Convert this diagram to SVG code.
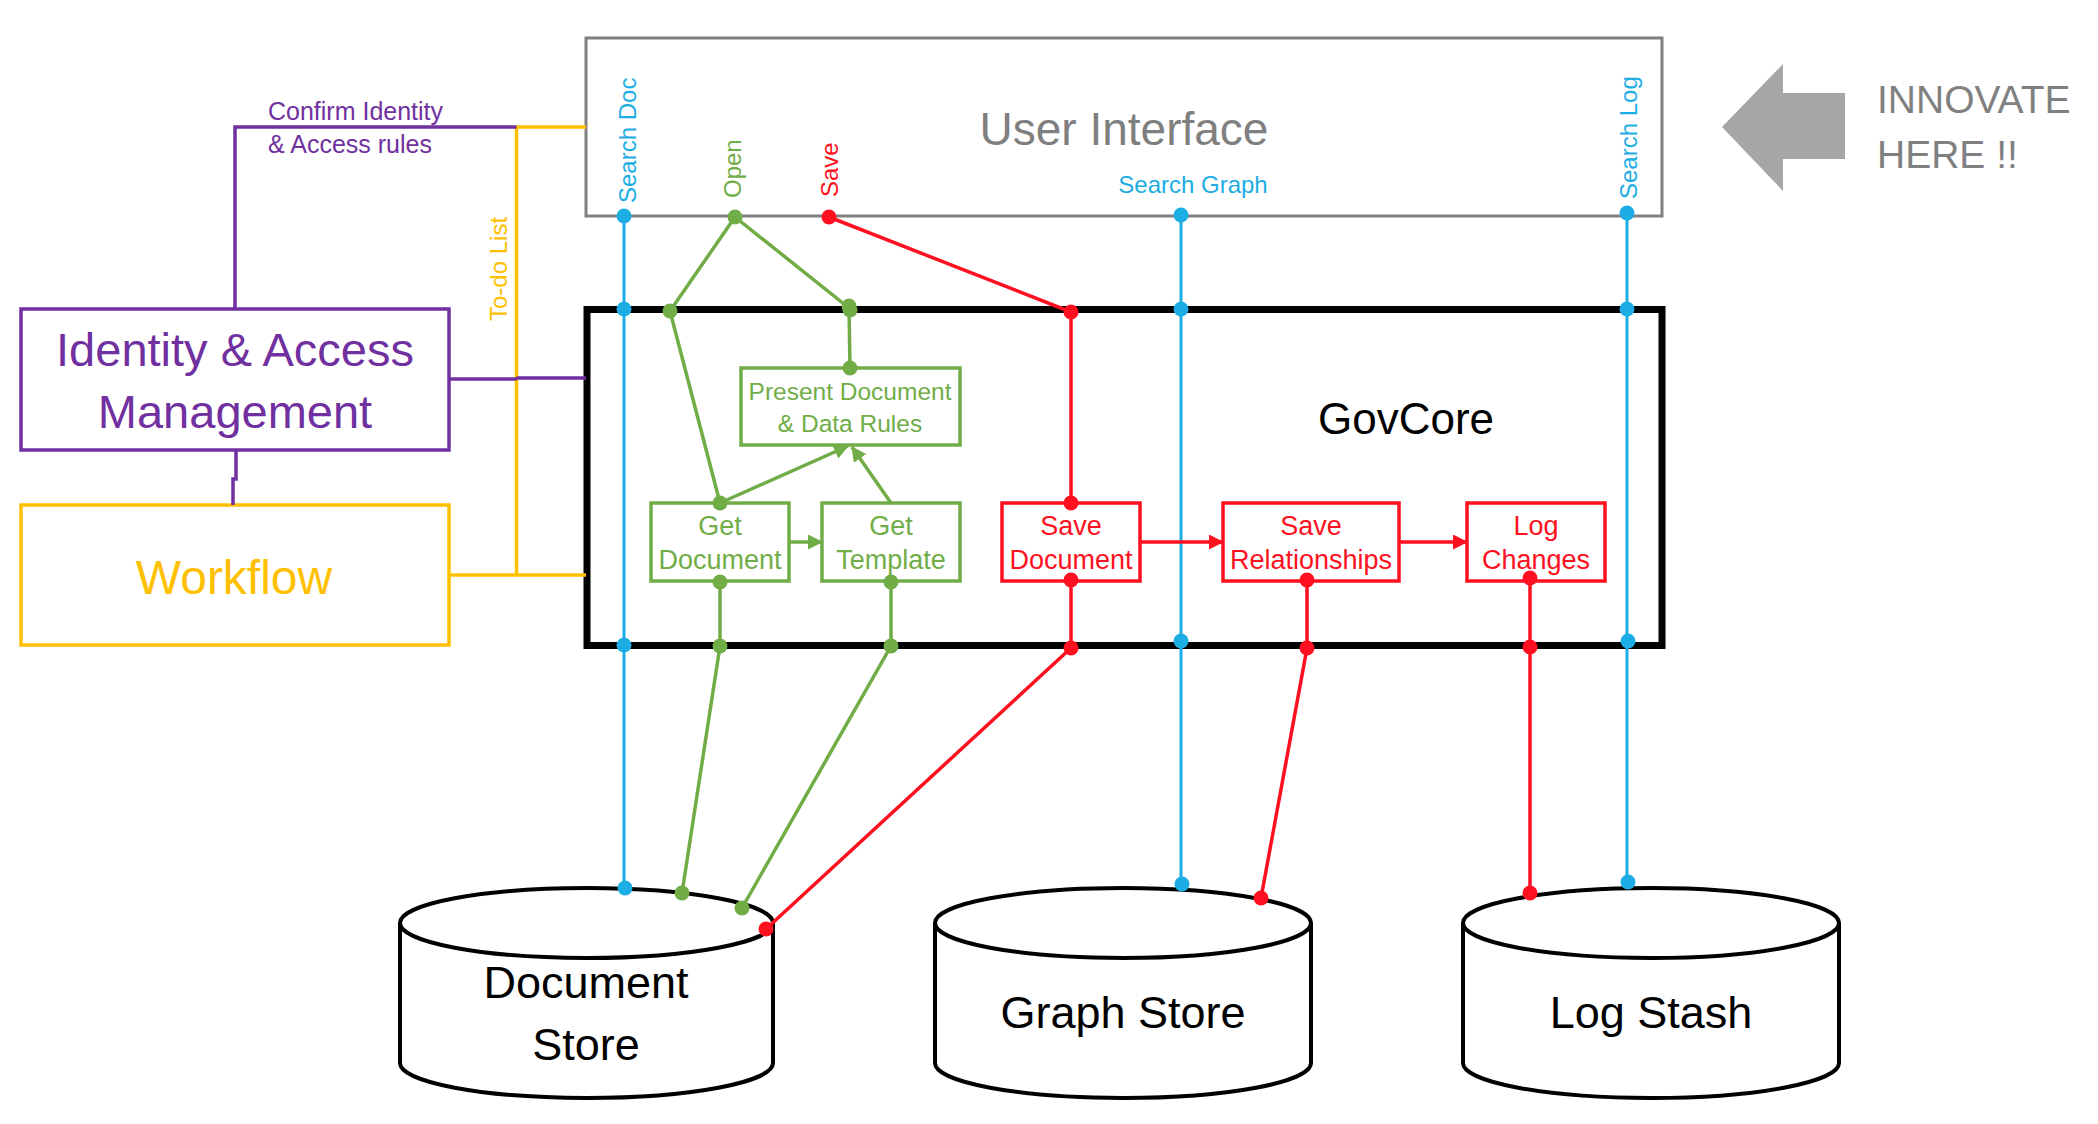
<svg xmlns="http://www.w3.org/2000/svg" width="2098" height="1124" viewBox="0 0 2098 1124">
<defs>
<style>
text{font-family:"Liberation Sans",Arial,sans-serif}
.b{stroke:#1CADE4;stroke-width:3;fill:none}
.g{stroke:#70AD47;stroke-width:3.5;fill:none}
.r{stroke:#FF1020;stroke-width:3.5;fill:none}
.p{stroke:#7030A0;stroke-width:3.5;fill:none}
.y{stroke:#FFC000;stroke-width:3.5;fill:none}
.bd{fill:#1CADE4}
.gd{fill:#70AD47}
.rd{fill:#FF1020}
.gbox{fill:#fff;stroke:#70AD47;stroke-width:3.5}
.rbox{fill:#fff;stroke:#FF1020;stroke-width:3.5}
.gt{fill:#70AD47;text-anchor:middle}
.rt{fill:#FF1020;text-anchor:middle}
.cyl{fill:#fff;stroke:#000;stroke-width:4}
.ct{fill:#000;font-size:45px;text-anchor:middle}
</style>
<marker id="ag" markerUnits="userSpaceOnUse" markerWidth="15" markerHeight="15" refX="14" refY="7.5" orient="auto"><path d="M0,0 L15,7.5 L0,15 z" fill="#70AD47"/></marker>
<marker id="ar" markerUnits="userSpaceOnUse" markerWidth="15" markerHeight="15" refX="14" refY="7.5" orient="auto"><path d="M0,0 L15,7.5 L0,15 z" fill="#FF1020"/></marker>
</defs>
<rect width="2098" height="1124" fill="#fff"/>

<g id="user-interface">
<rect x="586" y="38" width="1076" height="178" fill="#fff" stroke="#808080" stroke-width="3"/>
<text x="1124" y="145" font-size="46" fill="#7F7F7F" text-anchor="middle">User Interface</text>
<text transform="translate(636,203) rotate(-90)" font-size="24" fill="#1CADE4">Search Doc</text>
<text transform="translate(741,198) rotate(-90)" font-size="24" fill="#70AD47">Open</text>
<text transform="translate(838,197) rotate(-90)" font-size="24" fill="#FF1020">Save</text>
<text x="1193" y="193" font-size="24" fill="#1CADE4" text-anchor="middle">Search Graph</text>
<text transform="translate(1637,199) rotate(-90)" font-size="24" fill="#1CADE4">Search Log</text>
</g>

<g id="innovate">
<polygon points="1722,127 1783,64 1783,93 1845,93 1845,159 1783,159 1783,191" fill="#A6A6A6"/>
<text x="1877" y="113" font-size="39" fill="#808080">INNOVATE</text>
<text x="1877" y="168" font-size="39" fill="#808080">HERE !!</text>
</g>

<g id="govcore">
<rect x="587" y="309.5" width="1075" height="336" fill="#fff" stroke="#000" stroke-width="7"/>
<text x="1406" y="434" font-size="44" fill="#000" text-anchor="middle">GovCore</text>
</g>

<g id="identity-access-management">
<rect x="21" y="309" width="428" height="141" fill="#fff" stroke="#7030A0" stroke-width="3.5"/>
<text x="235" y="366" font-size="47" fill="#7030A0" text-anchor="middle">Identity &amp; Access</text>
<text x="235" y="428" font-size="47" fill="#7030A0" text-anchor="middle">Management</text>
</g>

<g id="workflow">
<rect x="21" y="505" width="428" height="140" fill="#fff" stroke="#FFC000" stroke-width="3.5"/>
<text x="234" y="594" font-size="48" fill="#FFC000" text-anchor="middle">Workflow</text>
</g>

<g id="document-store">
<path class="cyl" d="M400,923 V1063 A186.5,35 0 0 0 773,1063 V923"/>
<ellipse class="cyl" cx="586.5" cy="923" rx="186.5" ry="35"/>
<text class="ct" x="586" y="998">Document</text>
<text class="ct" x="586" y="1060">Store</text>
</g>

<g id="graph-store">
<path class="cyl" d="M935,923 V1063 A188,35 0 0 0 1311,1063 V923"/>
<ellipse class="cyl" cx="1123" cy="923" rx="188" ry="35"/>
<text class="ct" x="1123" y="1028">Graph Store</text>
</g>

<g id="log-stash">
<path class="cyl" d="M1463,923 V1063 A188,35 0 0 0 1839,1063 V923"/>
<ellipse class="cyl" cx="1651" cy="923" rx="188" ry="35"/>
<text class="ct" x="1651" y="1028">Log Stash</text>
</g>

<g id="connectors">
<!-- left side -->
<path class="y" d="M586,127 H516.5 V575"/>
<path class="y" d="M449,575 H586"/>
<path class="p" d="M235,309 V127 H516.5"/>
<path class="p" d="M449,379 H516.5 M516.5,378 H586"/>
<path class="p" d="M236,450 V479 H233 V505"/>
<text x="268" y="120" font-size="25" fill="#7030A0">Confirm Identity</text>
<text x="268" y="153" font-size="25" fill="#7030A0">&amp; Access rules</text>
<text transform="translate(507,321) rotate(-90)" font-size="24" fill="#FFC000">To-do List</text>

<!-- blue searches -->
<path class="b" d="M624,216 V888"/>
<path class="b" d="M1181,215 V884"/>
<path class="b" d="M1627,213 V882"/>

<!-- green open -->
<path class="g" d="M735,217 L670,311 L720,503"/>
<path class="g" d="M735,217 L849,308 L850,368"/>
<path class="g" d="M720,503 L848,446" marker-end="url(#ag)"/>
<path class="g" d="M891,503 L852,447" marker-end="url(#ag)"/>
<path class="g" d="M789,542 H822" marker-end="url(#ag)"/>
<path class="g" d="M720,582 V646 L682,893"/>
<path class="g" d="M891,582 V646 L742,908"/>

<!-- red save -->
<path class="r" d="M829,217 L1071,312 V503"/>
<path class="r" d="M1140,542 H1223" marker-end="url(#ar)"/>
<path class="r" d="M1399,542 H1467" marker-end="url(#ar)"/>
<path class="r" d="M1071,580 V648 L766,929"/>
<path class="r" d="M1307,580 V648 L1261,898"/>
<path class="r" d="M1530,578 V893"/>
</g>

<g id="present-document">
<rect class="gbox" x="741" y="368" width="219" height="77"/>
<text class="gt" x="850" y="400" font-size="24.5">Present Document</text>
<text class="gt" x="850" y="432" font-size="24.5">&amp; Data Rules</text>
</g>
<g id="get-document">
<rect class="gbox" x="651" y="503" width="138" height="78"/>
<text class="gt" x="720" y="535" font-size="27">Get</text>
<text class="gt" x="720" y="569" font-size="27">Document</text>
</g>
<g id="get-template">
<rect class="gbox" x="822" y="503" width="138" height="78"/>
<text class="gt" x="891" y="535" font-size="27">Get</text>
<text class="gt" x="891" y="569" font-size="27">Template</text>
</g>
<g id="save-document">
<rect class="rbox" x="1002" y="503" width="138" height="78"/>
<text class="rt" x="1071" y="535" font-size="27">Save</text>
<text class="rt" x="1071" y="569" font-size="27">Document</text>
</g>
<g id="save-relationships">
<rect class="rbox" x="1223" y="503" width="176" height="78"/>
<text class="rt" x="1311" y="535" font-size="27">Save</text>
<text class="rt" x="1311" y="569" font-size="27">Relationships</text>
</g>
<g id="log-changes">
<rect class="rbox" x="1467" y="503" width="138" height="78"/>
<text class="rt" x="1536" y="535" font-size="27">Log</text>
<text class="rt" x="1536" y="569" font-size="27">Changes</text>
</g>

<g id="connector-dots">
<circle class="bd" cx="624" cy="216" r="7.5"/>
<circle class="bd" cx="624" cy="309" r="7.5"/>
<circle class="bd" cx="624" cy="645" r="7.5"/>
<circle class="bd" cx="625" cy="888" r="7.5"/>
<circle class="bd" cx="1181" cy="215" r="7.5"/>
<circle class="bd" cx="1181" cy="309" r="7.5"/>
<circle class="bd" cx="1181" cy="641" r="7.5"/>
<circle class="bd" cx="1182" cy="884" r="7.5"/>
<circle class="bd" cx="1627" cy="213" r="7.5"/>
<circle class="bd" cx="1627" cy="309" r="7.5"/>
<circle class="bd" cx="1628" cy="641" r="7.5"/>
<circle class="bd" cx="1628" cy="882" r="7.5"/>
<circle class="gd" cx="735" cy="217" r="7.5"/>
<circle class="gd" cx="670" cy="311" r="7.5"/>
<circle class="gd" cx="849" cy="306" r="7.5"/>
<circle class="gd" cx="850" cy="310" r="7.5"/>
<circle class="gd" cx="850" cy="368" r="7.5"/>
<circle class="gd" cx="720" cy="503" r="7.5"/>
<circle class="gd" cx="720" cy="582" r="7.5"/>
<circle class="gd" cx="891" cy="582" r="7.5"/>
<circle class="gd" cx="720" cy="646" r="7.5"/>
<circle class="gd" cx="891" cy="646" r="7.5"/>
<circle class="gd" cx="682" cy="893" r="7.5"/>
<circle class="gd" cx="742" cy="908" r="7.5"/>
<circle class="rd" cx="829" cy="217" r="7.5"/>
<circle class="rd" cx="1071" cy="312" r="7.5"/>
<circle class="rd" cx="1071" cy="503" r="7.5"/>
<circle class="rd" cx="1071" cy="580" r="7.5"/>
<circle class="rd" cx="1071" cy="648" r="7.5"/>
<circle class="rd" cx="766" cy="929" r="7.5"/>
<circle class="rd" cx="1307" cy="580" r="7.5"/>
<circle class="rd" cx="1307" cy="648" r="7.5"/>
<circle class="rd" cx="1261" cy="898" r="7.5"/>
<circle class="rd" cx="1530" cy="578" r="7.5"/>
<circle class="rd" cx="1530" cy="647" r="7.5"/>
<circle class="rd" cx="1530" cy="893" r="7.5"/>
</g>
</svg>
